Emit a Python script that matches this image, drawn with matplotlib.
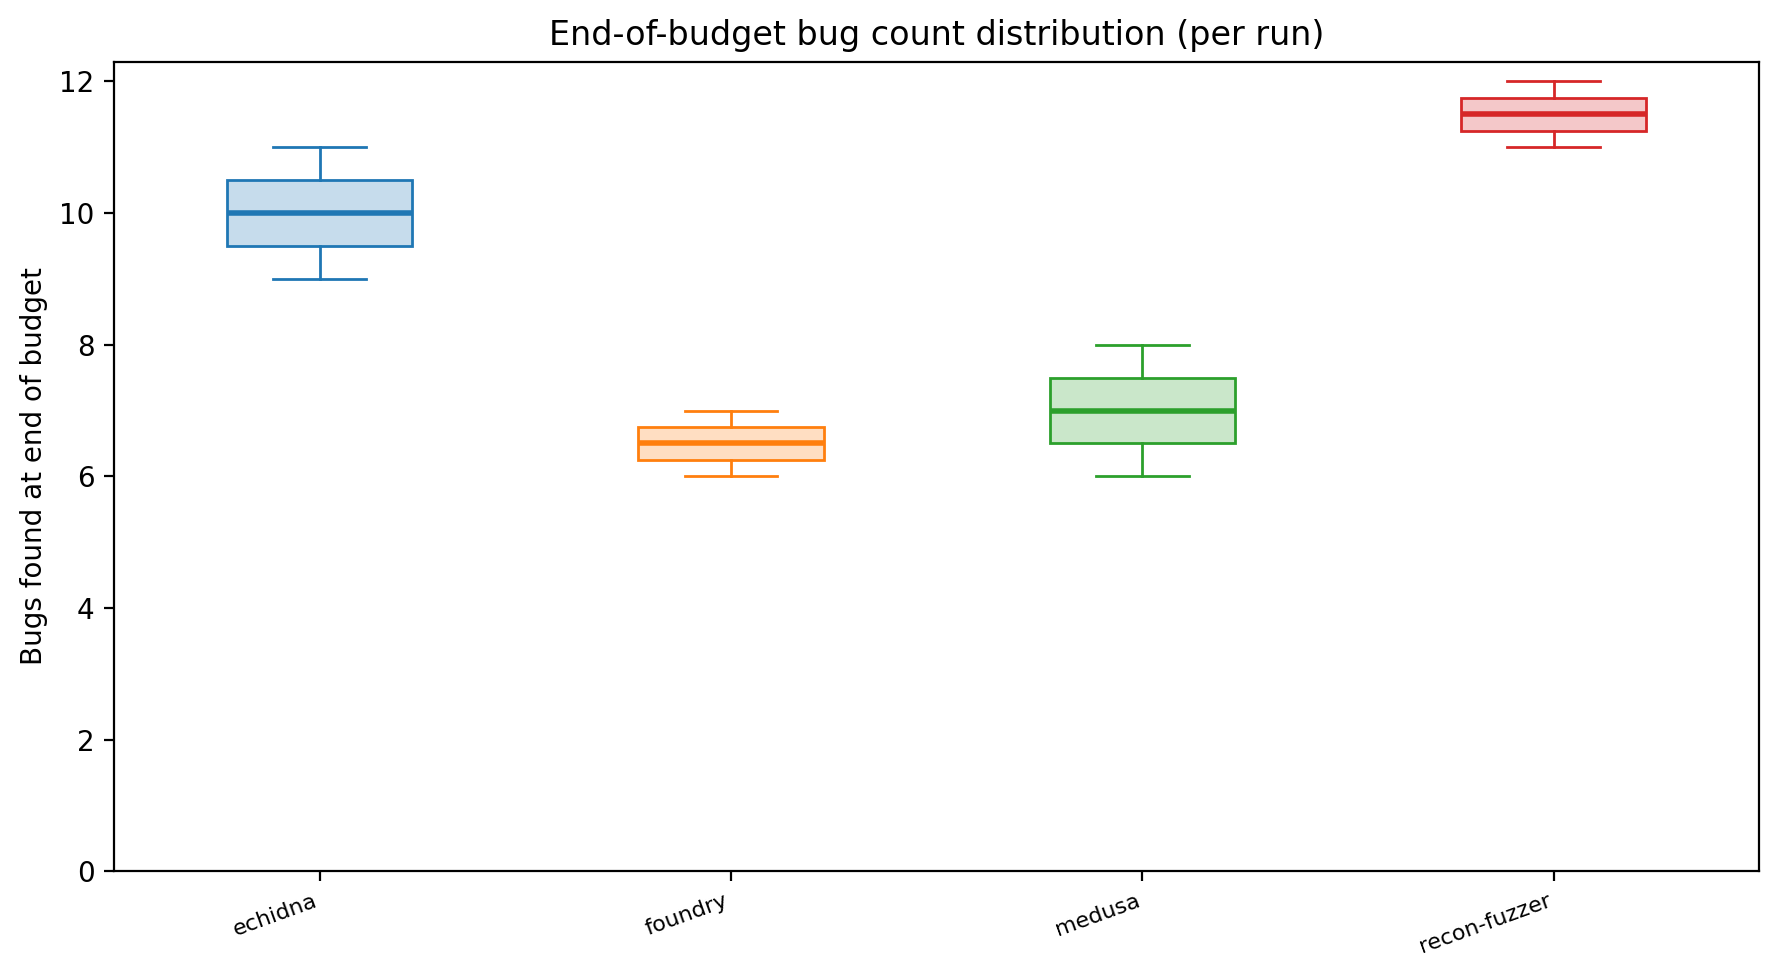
import matplotlib
matplotlib.use("Agg")
import matplotlib.pyplot as plt

# bug counts per run at end of budget
tools = ["echidna", "foundry", "medusa", "recon-fuzzer"]
echidna_runs = [9, 10, 11]
foundry_runs = [6, 7]
medusa_runs = [6, 7, 8]
recon_runs = [11, 12]
colors = ["#1f77b4", "#ff7f0e", "#2ca02c", "#d62728"]

data = [echidna_runs, foundry_runs, medusa_runs, recon_runs]

fig = plt.figure(figsize=(8.895, 4.885), dpi=200)
ax = fig.add_axes([0.064, 0.108, 0.925, 0.829])

bp = ax.boxplot(data, widths=0.45, patch_artist=True, showfliers=False)
for i, c in enumerate(colors):
    bp["boxes"][i].set_facecolor(matplotlib.colors.to_rgba(c, 0.25))
    bp["boxes"][i].set_edgecolor(c)
    bp["boxes"][i].set_linewidth(1.0)
    bp["medians"][i].set_color(c)
    bp["medians"][i].set_linewidth(2.0)
    for part in ("whiskers", "caps"):
        for ln in bp[part][2 * i:2 * i + 2]:
            ln.set_color(c)
            ln.set_linewidth(1.0)

ax.set_xticks(range(1, len(tools) + 1))
ax.set_xticklabels(tools, rotation=20, ha="right", fontsize=8)
ax.set_ylim(bottom=0)
ax.set_ylabel("Bugs found at end of budget")
ax.set_title("End-of-budget bug count distribution (per run)")

fig.savefig("out.png", dpi=200)
